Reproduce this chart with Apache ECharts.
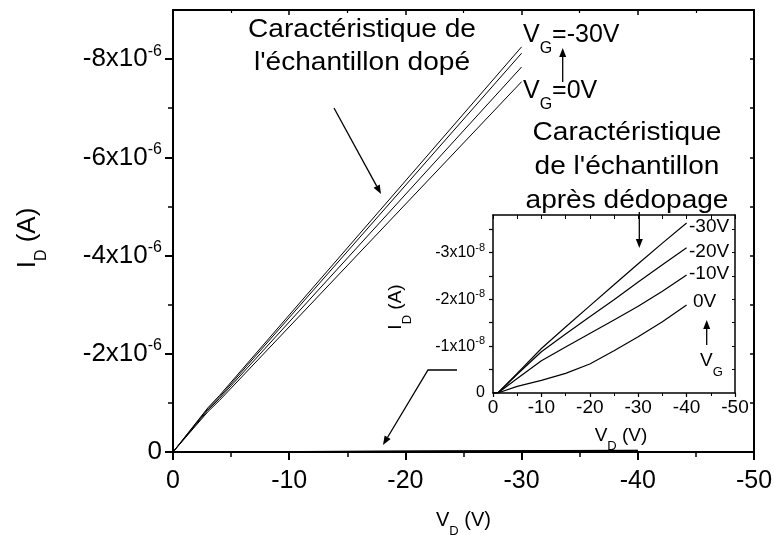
<!DOCTYPE html>
<html>
<head>
	<meta charset="UTF-8">
	<title></title>
	<style>
		html, body { margin: 0; padding: 0; background: #fff; }
		#chart { width: 774px; height: 535px; }
	</style>
	<script src="https://cdn.jsdelivr.net/npm/echarts@6/dist/echarts.min.js"></script>
</head>
<body>
	<div id="chart"></div>
	<script>
		var myChart = echarts.init(document.getElementById('chart'));

		// doped sample : V_D (V) and I_D (A) for each gate voltage
		var vdDoped = [0, -3, -4, -30];
		var idDopedVg30 = [0, -0.90e-6, -1.15e-6, -8.25e-6];
		var idDopedVg20 = [0, -0.88e-6, -1.12e-6, -8.12e-6];
		var idDopedVg10 = [0, -0.85e-6, -1.09e-6, -7.84e-6];
		var idDopedVg0 = [0, -0.82e-6, -1.05e-6, -7.54e-6];

		// after dedoping
		var vdDedoped = [0, -1, -5, -10, -15, -20, -25, -30, -35, -40];
		var idDedVg30 = [0, 0, -0.42e-8, -0.95e-8, -1.41e-8, -1.86e-8, -2.31e-8, -2.76e-8, -3.20e-8, -3.63e-8];
		var idDedVg20 = [0, 0, -0.40e-8, -0.88e-8, -1.26e-8, -1.63e-8, -1.99e-8, -2.37e-8, -2.74e-8, -3.10e-8];
		var idDedVg10 = [0, 0, -0.31e-8, -0.69e-8, -0.98e-8, -1.27e-8, -1.56e-8, -1.85e-8, -2.17e-8, -2.52e-8];
		var idDedVg0 = [0, 0, -0.14e-8, -0.27e-8, -0.42e-8, -0.62e-8, -0.90e-8, -1.20e-8, -1.52e-8, -1.88e-8];

		// ticks
		var mainYTicks = [0, -2e-6, -4e-6, -6e-6, -8e-6];
		var mainYMinor = [-1e-6, -3e-6, -5e-6, -7e-6];
		var mainYAll = [-1e-6, -2e-6, -3e-6, -4e-6, -5e-6, -6e-6, -7e-6, -8e-6];
		var insetYTicks = [0, -1e-8, -2e-8, -3e-8];
		var insetYAll = [-0.5e-8, -1e-8, -1.5e-8, -2e-8, -2.5e-8, -3e-8, -3.5e-8];
		var dedVgLabels = ['-30V', '-20V', '-10V', '0V'];

		var FONT = '"Liberation Sans", Arial, sans-serif';

		function pairs(xs, ys) {
			return xs.map(function (x, i) { return [x, ys[i]]; });
		}

		// rich styles : b = normal, sup = exponent, sub = index
		function richSet(size, small, lh, up, down) {
			var base = { fontFamily: FONT, color: '#000', verticalAlign: 'middle', lineHeight: lh };
			return {
				b: Object.assign({ fontSize: size }, base),
				sup: Object.assign({ fontSize: small, padding: [0, 0, up * 2, 0] }, base),
				sub: Object.assign({ fontSize: small, padding: [down * 2, 0, 0, 0] }, base)
			};
		}
		var richMain = richSet(25, 16, 32, 8, 14);
		var richTick = richSet(26, 16, 32, 8, 14);
		var richName = richSet(20, 13, 26, 6, 11);
		var richInset = richSet(16, 11, 20, 5, 9);
		var richInsetName = richSet(19, 13, 24, 6, 11);

		function arrow(pts) {
			var n = pts.length, a = pts[n - 2], b = pts[n - 1];
			var ang = Math.atan2(b[1] - a[1], b[0] - a[0]);
			var L = 9, W = 3.5;
			var bx = b[0] - L * Math.cos(ang), by = b[1] - L * Math.sin(ang);
			var s = Math.sin(ang), c = Math.cos(ang);
			return [
				{ type: 'polyline', shape: { points: pts.slice(0, n - 1).concat([[bx, by]]) },
					style: { stroke: '#000', lineWidth: 1.3, fill: null } },
				{ type: 'polygon', shape: { points: [b, [bx + W * s, by - W * c], [bx - W * s, by + W * c]] },
					style: { fill: '#000' } }
			];
		}

		function label(x, y, text, rich, align) {
			return { type: 'text', x: x, y: y, style: { text: text, rich: rich,
				align: align || 'left', verticalAlign: 'middle', textAlign: align || 'left', textVerticalAlign: 'middle' } };
		}

		function lineSeries(xi, yi, data, w) {
			return { type: 'line', xAxisIndex: xi, yAxisIndex: yi, data: data, symbol: 'none',
				lineStyle: { color: '#000', width: w }, silent: true, z: 3 };
		}

		var blk = '#000';
		function xAx(grid, pos, opts) {
			return Object.assign({
				gridIndex: grid, type: 'value', position: pos, min: -50, max: 0, interval: 10, inverse: true,
				axisLine: { onZero: false, lineStyle: { color: blk, width: 2 } },
				splitLine: { show: false }, minorSplitLine: { show: false }
			}, opts);
		}
		function yAx(grid, pos, min, opts) {
			return Object.assign({
				gridIndex: grid, type: 'value', position: pos, min: min, max: 0, inverse: true,
				axisLine: { onZero: false, lineStyle: { color: blk, width: 2 } },
				splitLine: { show: false }
			}, opts);
		}

		var option = {
			animation: false,
			backgroundColor: '#fff',
			grid: [
				{ left: 173, top: 10, width: 581, height: 442, outerBoundsMode: 'none', containLabel: false },
				{ left: 493, top: 215, width: 242, height: 178, outerBoundsMode: 'none', containLabel: false }
			],
			xAxis: [
				xAx(0, 'bottom', {
					axisTick: { length: 8, lineStyle: { color: blk, width: 2 } },
					minorTick: { show: true, splitNumber: 2, length: 5, lineStyle: { color: blk, width: 1.5 } },
					axisLabel: { margin: 17, fontSize: 25, fontFamily: FONT, color: blk },
					name: '{b|V}{sub|D}{b| (V)}', nameLocation: 'middle', nameGap: 55,
					nameTextStyle: { rich: richName }
				}),
				xAx(0, 'top', {
					axisTick: { inside: true, length: 5, lineStyle: { color: blk, width: 1.5 } },
					minorTick: { show: true, splitNumber: 2, length: 3, lineStyle: { color: blk, width: 1.2 } },
					axisLabel: { show: false }
				}),
				xAx(1, 'bottom', {
					axisLine: { onZero: false, lineStyle: { color: blk, width: 1.5 } },
					axisTick: { length: 4, lineStyle: { color: blk, width: 1.2 } },
					minorTick: { show: true, splitNumber: 2, length: 3, lineStyle: { color: blk, width: 1 } },
					axisLabel: { margin: 5, fontSize: 19, fontFamily: FONT, color: blk },
					name: '{b|V}{sub|D}{b| (V)}', nameLocation: 'middle', nameGap: 23,
					nameTextStyle: { rich: richInsetName, padding: [0, 0, 0, 14] }
				}),
				xAx(1, 'top', {
					axisLine: { onZero: false, lineStyle: { color: blk, width: 1.5 } },
					axisTick: { inside: true, length: 4, lineStyle: { color: blk, width: 1 } },
					minorTick: { show: true, splitNumber: 2, length: 4, lineStyle: { color: blk, width: 1 } },
					axisLabel: { show: false }
				})
			],
			yAxis: [
				yAx(0, 'left', -9e-6, {
					axisTick: { length: 8, customValues: mainYTicks, lineStyle: { color: blk, width: 2 } },
					axisLabel: {
						margin: 11, customValues: mainYTicks, rich: richTick,
						formatter: function (v) {
							if (Math.abs(v) < 1e-12) return '{b|0}';
							return '{b|' + Math.round(v / 1e-6) + 'x10}{sup|-6}';
						}
					}
				}),
				yAx(0, 'left', -9e-6, {
					axisLine: { show: false },
					axisTick: { length: 5, customValues: mainYMinor, lineStyle: { color: blk, width: 1.5 } },
					axisLabel: { show: false }
				}),
				yAx(0, 'right', -9e-6, {
					axisTick: { inside: true, length: 4, customValues: mainYAll, lineStyle: { color: blk, width: 1.5 } },
					axisLabel: { show: false }
				}),
				yAx(1, 'left', -3.8e-8, {
					axisLine: { onZero: false, lineStyle: { color: blk, width: 1.5 } },
					axisTick: { length: 4, customValues: insetYAll, lineStyle: { color: blk, width: 1.2 } },
					axisLabel: {
						margin: 8, customValues: insetYTicks, rich: richInset,
						formatter: function (v) {
							if (Math.abs(v) < 1e-14) return '{b|0}';
							return '{b|' + Math.round(v / 1e-8) + 'x10}{sup|-8}';
						}
					}
				}),
				yAx(1, 'right', -3.8e-8, {
					axisLine: { onZero: false, lineStyle: { color: blk, width: 1.5 } },
					axisTick: { inside: true, length: 3, customValues: insetYAll, lineStyle: { color: blk, width: 1 } },
					axisLabel: { show: false }
				})
			],
			series: [
				lineSeries(0, 0, pairs(vdDoped, idDopedVg30), 1),
				lineSeries(0, 0, pairs(vdDoped, idDopedVg20), 1),
				lineSeries(0, 0, pairs(vdDoped, idDopedVg10), 1),
				lineSeries(0, 0, pairs(vdDoped, idDopedVg0), 1),
				lineSeries(0, 0, pairs(vdDedoped, idDedVg30), 1),
				lineSeries(0, 0, pairs(vdDedoped, idDedVg20), 1),
				lineSeries(0, 0, pairs(vdDedoped, idDedVg10), 1),
				lineSeries(0, 0, pairs(vdDedoped, idDedVg0), 1),
				lineSeries(2, 3, pairs(vdDedoped, idDedVg30), 1.2),
				lineSeries(2, 3, pairs(vdDedoped, idDedVg20), 1.2),
				lineSeries(2, 3, pairs(vdDedoped, idDedVg10), 1.2),
				lineSeries(2, 3, pairs(vdDedoped, idDedVg0), 1.2)
			],
			graphic: [].concat(
				[
					// y axis names
					Object.assign(label(28, 238, '{b|I}{sub|D}{b| (A)}', richSet(26, 16, 32, 8, 14), 'center'), { rotation: Math.PI / 2 }),
					Object.assign(label(396, 307, '{b|I}{sub|D}{b| (A)}', richInsetName, 'center'), { rotation: Math.PI / 2 }),
					// annotations
					{ type: 'text', x: 362, y: 46, scaleX: 1.08, style: {
						text: 'Caractéristique de\nl\'échantillon dopé', fontSize: 26, fontFamily: FONT, fill: blk,
						lineHeight: 33, align: 'center', verticalAlign: 'middle', textAlign: 'center', textVerticalAlign: 'middle' } },
					{ type: 'text', x: 627, y: 167, scaleX: 1.08, style: {
						text: 'Caractéristique\nde l\'échantillon\naprès dédopage', fontSize: 26, fontFamily: FONT, fill: blk,
						lineHeight: 34, align: 'center', verticalAlign: 'middle', textAlign: 'center', textVerticalAlign: 'middle' } },
					label(523, 35, '{b|V}{sub|G}{b|=-30V}', richMain),
					label(523, 91, '{b|V}{sub|G}{b|=0V}', richMain),
					label(689, 227, '{b|' + dedVgLabels[0] + '}', richInsetName),
					label(689, 252, '{b|' + dedVgLabels[1] + '}', richInsetName),
					label(689, 274, '{b|' + dedVgLabels[2] + '}', richInsetName),
					label(693, 302, '{b|' + dedVgLabels[3] + '}', richInsetName),
					label(700, 361, '{b|V}{sub|G}', richInsetName)
				],
				arrow([[334, 108], [381, 194]]),
				arrow([[562.7, 82], [562.7, 48]]),
				arrow([[639.3, 212], [639.3, 248]]),
				arrow([[457, 370], [428, 370], [383, 445]]),
				arrow([[706.7, 345], [706.7, 320]])
			)
		};

		myChart.setOption(option);
	</script>
</body>
</html>
